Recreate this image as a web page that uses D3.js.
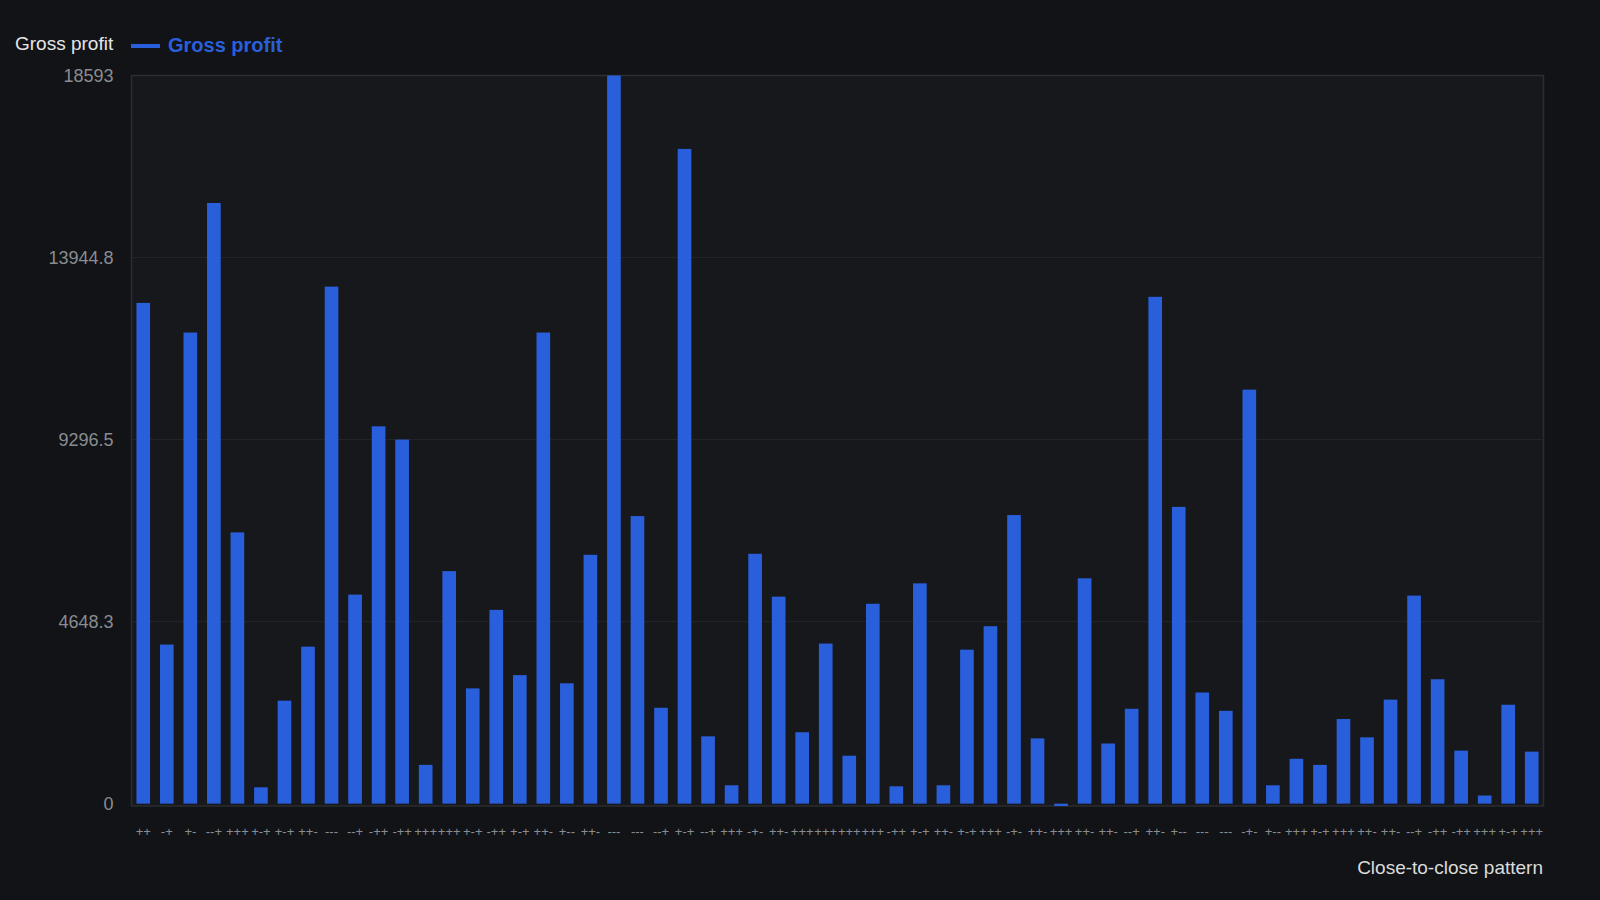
<!DOCTYPE html>
<html>
<head>
<meta charset="utf-8">
<script src="https://cdn.jsdelivr.net/npm/d3@7"></script>
<style>
  html, body { margin: 0; padding: 0; background: #111317; }
  svg { display: block; }
</style>
</head>
<body>
<svg id="chart" width="1600" height="900"></svg>
<script>
const patterns = ["++","-+","+-","--+","+++","+-+","+-+","++-","---","--+",
  "-++","-++","+++","+++","+-+","-++","+-+","++-","+--","++-",
  "---","---","--+","+-+","--+","+++","-+-","++-","+++","+++",
  "+++","+++","-++","+-+","++-","+-+","+++","-+-","++-","+++",
  "++-","++-","--+","++-","+--","---","---","-+-","+--","+++",
  "+-+","+++","++-","++-","--+","-++","-++","+++","+-+","+++"];
const grossProfit = [12786,4062,12030,15338,6927,417,2630,4010,13202,5338,
  9635,9296,990,5937,2943,4948,3281,12030,3073,6354,
  18593,7343,2448,16718,1719,469,6380,5286,1823,4088,
  1224,5104,443,5625,469,3932,4531,7369,1667,-60,
  5755,1536,2422,12942,7578,2838,2370,10572,469,1146,
  990,2161,1693,2656,5312,3177,1354,208,2526,1328];
const yTicks = [0, 4648.3, 9296.5, 13944.8, 18593];

const data = patterns.map((p, i) => ({ id: i, label: p, value: grossProfit[i] }));

const svg = d3.select("#chart");
const font = "'Liberation Sans', Arial, Helvetica, sans-serif";
const m = { left: 131.5, right: 1543.5, top: 75.5, bottom: 806 };

const x = d3.scaleBand().domain(data.map(d => d.id)).range([m.left, m.right]).paddingInner(0.42).paddingOuter(0.21);
const y = d3.scaleLinear().domain([d3.min(grossProfit.concat([0])), 18593]).range([m.bottom, m.top]);

svg.append("rect").attr("width", 1600).attr("height", 900).attr("fill", "#111317");
svg.append("rect").attr("x", m.left).attr("y", m.top).attr("width", m.right - m.left).attr("height", m.bottom - m.top)
  .attr("fill", "#16181c").attr("stroke", "#2b2d31").attr("stroke-width", 1.5);

// gridlines
svg.append("g").selectAll("line").data(yTicks.slice(1, -1)).join("line")
  .attr("x1", m.left).attr("x2", m.right).attr("y1", d => y(d)).attr("y2", d => y(d))
  .attr("stroke", "#24262a").attr("stroke-width", 1);

// y axis
const yAxis = d3.axisLeft(y).tickValues(yTicks).tickFormat(d => String(d)).tickSize(0).tickPadding(18);
const yg = svg.append("g").attr("transform", `translate(${m.left},0)`).call(yAxis);
yg.select(".domain").remove();
yg.selectAll("text").attr("fill", "#8a8c90").attr("font-size", 18).attr("font-family", font);

// bars
svg.append("g").selectAll("rect").data(data).join("rect")
  .attr("x", d => x(d.id))
  .attr("width", x.bandwidth())
  .attr("y", d => Math.min(y(d.value), y(0)))
  .attr("height", d => Math.max(1.5, Math.abs(y(0) - y(d.value))))
  .attr("fill", "#2a5fdc");

// x axis
const xAxis = d3.axisBottom(x).tickFormat(i => patterns[i]).tickSize(0).tickPadding(0);
const xg = svg.append("g").attr("transform", `translate(0,827)`).call(xAxis);
xg.select(".domain").remove();
xg.selectAll("text").attr("fill", "#8a8c90").attr("font-size", 13).attr("font-family", font);

// titles
svg.append("text").attr("x", 15).attr("y", 50).text("Gross profit")
  .attr("fill", "#e6e6e6").attr("font-size", 19).attr("font-family", font);
svg.append("line").attr("x1", 131).attr("x2", 160).attr("y1", 46).attr("y2", 46)
  .attr("stroke", "#2a5fdc").attr("stroke-width", 4);
svg.append("text").attr("x", 168).attr("y", 52).text("Gross profit")
  .attr("fill", "#2a5fdc").attr("font-size", 20).attr("font-weight", "bold").attr("font-family", font);
svg.append("text").attr("x", 1543).attr("y", 874).attr("text-anchor", "end").text("Close-to-close pattern")
  .attr("fill", "#dcdcdc").attr("font-size", 19).attr("font-family", font);
</script>
</body>
</html>
